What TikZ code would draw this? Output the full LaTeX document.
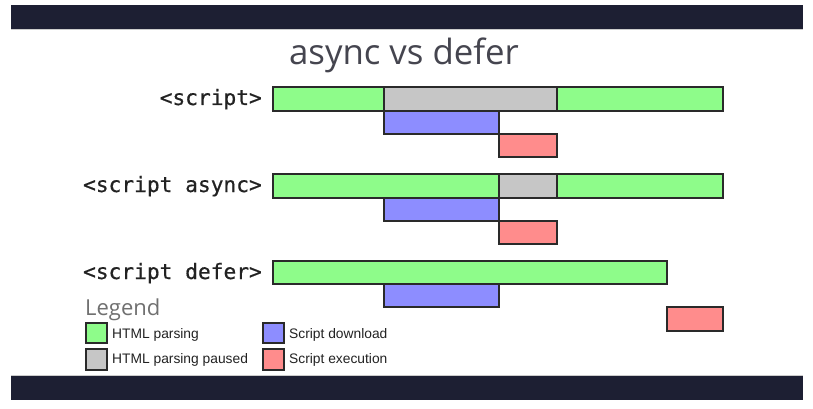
\documentclass[tikz,border=0pt]{standalone}
\usepackage{fontspec}
\setmainfont{Liberation Sans}
\newfontfamily\titlefont{Open Sans}
\newfontfamily\codefont[FakeBold=0.6]{DejaVu Sans Mono}
\definecolor{barnavy}{HTML}{1D1F33}
\definecolor{pgreen}{HTML}{8EFC8A}
\definecolor{pgray}{HTML}{C6C6C6}
\definecolor{pblue}{HTML}{8D8DFF}
\definecolor{pred}{HTML}{FF8C8C}
\definecolor{edgec}{HTML}{2A2A2A}
\definecolor{titlec}{HTML}{45454F}
\definecolor{legc}{HTML}{707070}
\definecolor{txtc}{HTML}{222222}
\begin{document}
\begin{tikzpicture}[x=1pt,y=-1pt,
  blk/.style={draw=edgec,line width=1.4pt},
  gbar/.style={blk,fill=pgreen},
  pbar/.style={blk,fill=pgray},
  dbar/.style={blk,fill=pblue},
  ebar/.style={blk,fill=pred},
  code/.style={anchor=base east,inner sep=0pt,font=\codefont\fontsize{21.2}{24}\selectfont,text=txtc},
  legtxt/.style={anchor=base west,inner sep=0pt,font=\fontsize{13.8}{16}\selectfont,text=txtc},
  navy/.style={fill=barnavy,draw=none}]
\useasboundingbox[fill=white] (0,0) rectangle (813,409);
% top and bottom bars
\fill[navy] (11,5) rectangle (803,29);
\draw[gray!40,line width=0.8pt] (11,29.5) -- (803,29.5);
\fill[navy] (11,376) rectangle (803,400);
\draw[gray!40,line width=0.8pt] (11,375.5) -- (803,375.5);
% title
\node[anchor=base,inner sep=0pt,text=titlec,font=\titlefont\fontsize{34.8}{40}\selectfont] (title) at (404,65) {async vs defer};
% labels
\node[code] (l1) at (262,105) {<script>};
\node[code] (l2) at (262,192) {<script async>};
\node[code] (l3) at (262,279) {<script defer>};
% row 1
\draw[gbar] (273,87) rectangle (384,111);
\draw[pbar] (384,87) rectangle (557,111);
\draw[gbar] (557,87) rectangle (723,111);
\draw[dbar] (384,111) rectangle (499,134);
\draw[ebar] (499,134) rectangle (557,157);
% row 2
\draw[gbar] (273,174) rectangle (499,198);
\draw[pbar] (499,174) rectangle (557,198);
\draw[gbar] (557,174) rectangle (723,198);
\draw[dbar] (384,198) rectangle (499,221);
\draw[ebar] (499,221) rectangle (557,244);
% row 3
\draw[gbar] (273,261) rectangle (667,284);
\draw[dbar] (384,284) rectangle (499,307);
\draw[ebar] (667,307) rectangle (723,331);
% legend
\node[anchor=base west,inner sep=0pt,text=legc,font=\titlefont\fontsize{22}{26}\selectfont] (leg) at (85,315) {Legend};
\draw[gbar] (86,323) rectangle (107,343);
\draw[pbar] (86,349) rectangle (107,370);
\draw[dbar] (263,323) rectangle (284,343);
\draw[ebar] (263,349) rectangle (284,370);
\node[legtxt] (t1) at (112,338) {HTML parsing};
\node[legtxt] (t2) at (112,363) {HTML parsing paused};
\node[legtxt] (t3) at (289,338) {Script download};
\node[legtxt] (t4) at (289,363) {Script execution};
\end{tikzpicture}
\end{document}
